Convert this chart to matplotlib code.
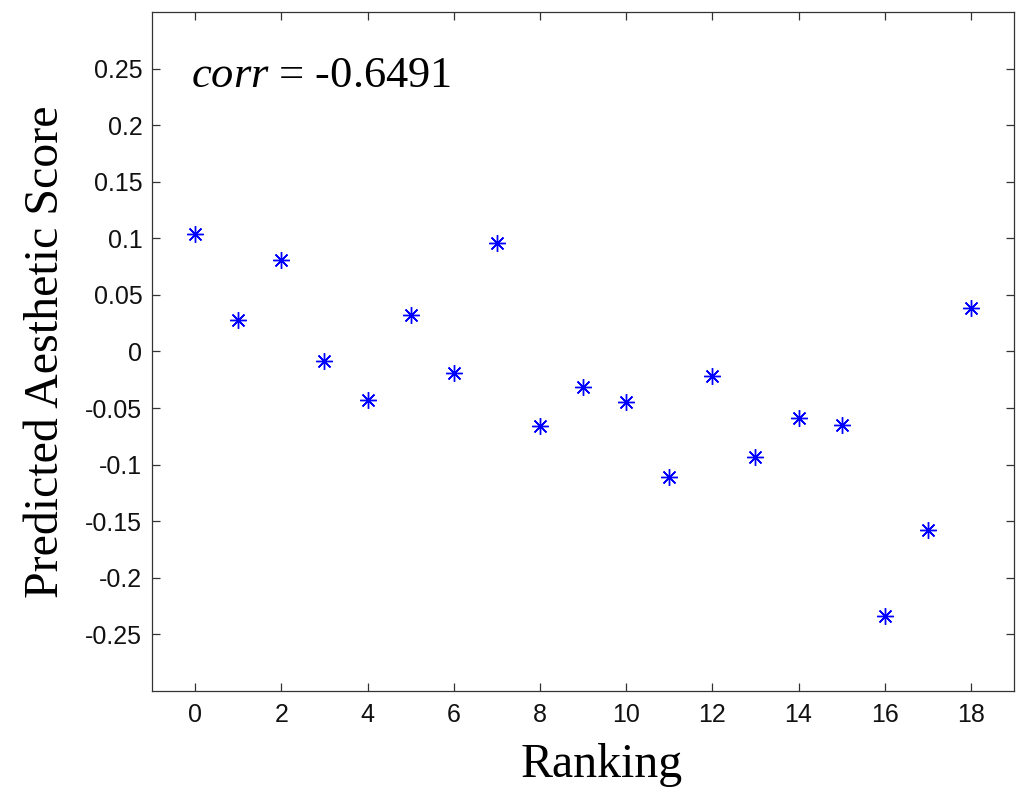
import matplotlib
matplotlib.use("Agg")
import matplotlib.pyplot as plt

# Values
ranking = list(range(19))
scores = [0.104, 0.028, 0.081, -0.008, -0.043, 0.032, -0.019, 0.096, -0.066,
          -0.031, -0.045, -0.111, -0.022, -0.093, -0.059, -0.065, -0.234,
          -0.158, 0.038]
corr_value = "-0.6491"

x_ticks = list(range(0, 19, 2))
y_ticks = [-0.25, -0.2, -0.15, -0.1, -0.05, 0, 0.05, 0.1, 0.15, 0.2, 0.25]
y_tick_labels = ["-0.25", "-0.2", "-0.15", "-0.1", "-0.05", "0",
                 "0.05", "0.1", "0.15", "0.2", "0.25"]

plt.rcParams["axes.unicode_minus"] = False
plt.rcParams["mathtext.fontset"] = "custom"
plt.rcParams["mathtext.it"] = "Liberation Serif:italic"
plt.rcParams["mathtext.rm"] = "Liberation Serif"

fig = plt.figure(figsize=(10.25, 7.88), dpi=100)
ax = fig.add_axes([0.1483, 0.1231, 0.8410, 0.8617])

ax.plot(ranking, scores, linestyle="none", marker=(8, 2, 0), markersize=12,
        markeredgewidth=1.0, color=(0, 0, 1))

ax.set_xlim(-1, 19)
ax.set_ylim(-0.3, 0.3)
ax.set_xticks(x_ticks)
ax.set_yticks(y_ticks)
ax.set_yticklabels(y_tick_labels)

spine_color = "#333333"
for s in ax.spines.values():
    s.set_color(spine_color)
    s.set_linewidth(0.9)
ax.tick_params(direction="in", length=6, width=0.9, color=spine_color,
               top=True, right=True, labelsize=18, labelcolor="#111111",
               labelfontfamily="Liberation Sans")
ax.tick_params(axis="x", pad=9)
ax.tick_params(axis="y", pad=7)

ax.set_xlabel("Ranking", fontsize=34.5, family="Liberation Serif")
ax.xaxis.set_label_coords(0.522, -0.077, transform=ax.transAxes)
ax.xaxis.label.set_va("top")
ax.set_ylabel("Predicted Aesthetic Score", fontsize=34.5,
              family="Liberation Serif", labelpad=12)

ax.text(-0.1, 0.2336, "$corr$ = " + corr_value, fontsize=32,
        family="Liberation Serif", va="baseline", ha="left")

fig.savefig("out.png", dpi=100)
